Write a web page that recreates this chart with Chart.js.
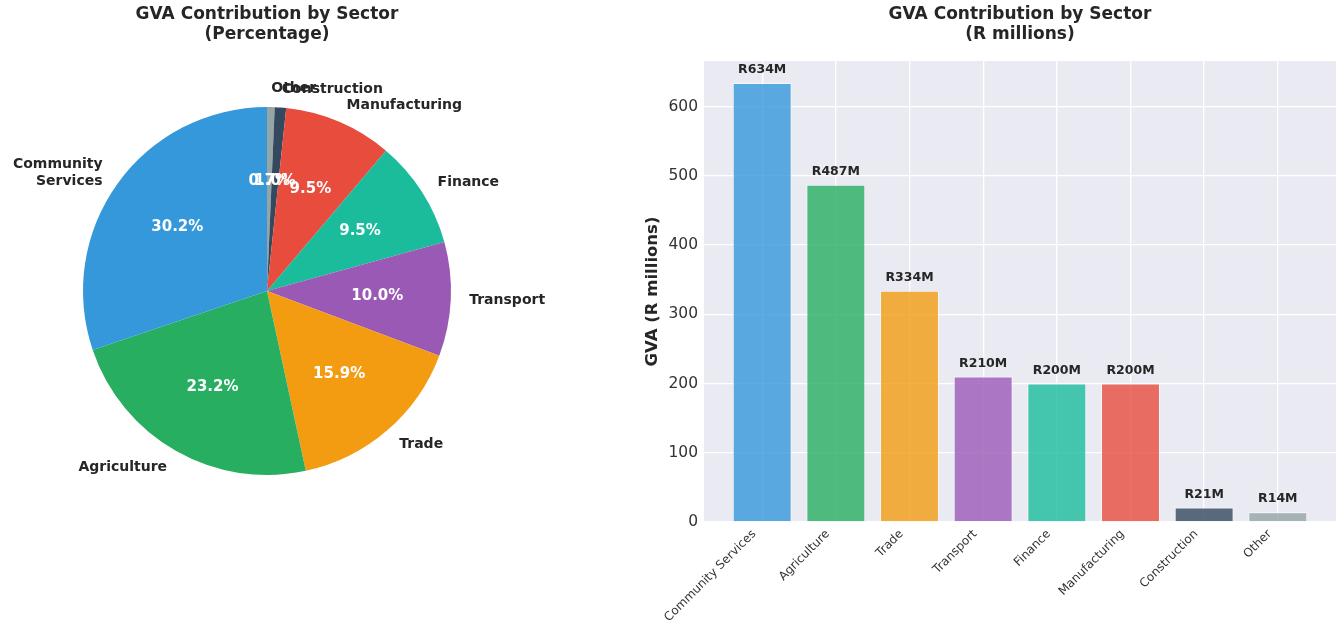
<!DOCTYPE html>
<html><head><meta charset="utf-8">
<script src="https://cdn.jsdelivr.net/npm/chart.js@4.4.1/dist/chart.umd.min.js"></script>
<style>
html,body{margin:0;padding:0;background:#fff;width:1343px;height:629px;overflow:hidden}
#pieWrap{position:absolute;left:0;top:0;width:600px;height:629px}
#barWrap{position:absolute;left:620px;top:0;width:723px;height:629px}
</style></head><body>
<div id="pieWrap"><canvas id="pie"></canvas></div>
<div id="barWrap"><canvas id="bar"></canvas></div>
<script>
const categories = ['Community Services','Agriculture','Trade','Transport','Finance','Manufacturing','Construction','Other'];
const gvaValues = [634,487,334,210,200,200,21,14];
const sectorColors = ['#3498db','#27ae60','#f39c12','#9b59b6','#1abc9c','#e74c3c','#34495e','#95a5a6'];
const yTicks = [0,100,200,300,400,500,600];
const pieTitle = ['GVA Contribution by Sector','(Percentage)'];
const barTitle = ['GVA Contribution by Sector','(R millions)'];
const yAxisTitle = 'GVA (R millions)';

const FONT = '"DejaVu Sans", sans-serif';
const TEXT = '#262626';

function withAlpha(hex, a){
  const n = parseInt(hex.slice(1),16);
  return `rgba(${(n>>16)&255},${(n>>8)&255},${n&255},${a})`;
}

const topTitle = {
  id:'topTitle',
  afterDraw(chart, args, opts){
    const ctx = chart.ctx, ca = chart.chartArea;
    ctx.save();
    ctx.font = `bold 17px ${FONT}`;
    ctx.fillStyle = TEXT;
    ctx.textAlign = 'center';
    ctx.textBaseline = 'middle';
    const cx = (ca.left + ca.right)/2;
    opts.lines.forEach((l,i)=>ctx.fillText(l, cx, opts.y + i*opts.lineHeight));
    ctx.restore();
  }
};

const pieLabels = {
  id:'pieLabels',
  afterDatasetsDraw(chart){
    const ctx = chart.ctx;
    const meta = chart.getDatasetMeta(0);
    const data = chart.data.datasets[0].data;
    const labels = chart.data.labels;
    const total = data.reduce((a,b)=>a+b,0);
    ctx.save();
    meta.data.forEach((arc,i)=>{
      const p = arc.getProps(['x','y','startAngle','endAngle','outerRadius'], true);
      const mid = (p.startAngle + p.endAngle)/2;
      const c = Math.cos(mid), s = Math.sin(mid);
      const lx = p.x + c*p.outerRadius*1.1, ly = p.y + s*p.outerRadius*1.1;
      ctx.font = `bold 14px ${FONT}`;
      ctx.fillStyle = TEXT;
      ctx.textAlign = c > 0 ? 'left' : 'right';
      ctx.textBaseline = 'middle';
      const lines = labels[i].split(' ');
      const lh = 17;
      lines.forEach((ln,k)=>ctx.fillText(ln, lx, ly + (k-(lines.length-1)/2)*lh));
    });
    meta.data.forEach((arc,i)=>{
      const p = arc.getProps(['x','y','startAngle','endAngle','outerRadius'], true);
      const mid = (p.startAngle + p.endAngle)/2;
      const px = p.x + Math.cos(mid)*p.outerRadius*0.6, py = p.y + Math.sin(mid)*p.outerRadius*0.6;
      ctx.font = `bold 15px ${FONT}`;
      ctx.fillStyle = '#ffffff';
      ctx.textAlign = 'center';
      ctx.textBaseline = 'middle';
      ctx.fillText((data[i]/total*100).toFixed(1)+'%', px, py);
    });
    ctx.restore();
  }
};

// pie: matplotlib draws counter-clockwise from the top; Chart.js clockwise, so reverse order
const pieOrder = categories.map((_,i)=>i).reverse();
new Chart(document.getElementById('pie'), {
  type:'pie',
  data:{
    labels: pieOrder.map(i=>categories[i]),
    datasets:[{
      data: pieOrder.map(i=>gvaValues[i]),
      backgroundColor: pieOrder.map(i=>sectorColors[i]),
      borderWidth:0
    }]
  },
  options:{
    responsive:true, maintainAspectRatio:false, animation:false,
    layout:{padding:{left:83,right:149,top:107,bottom:154}},
    plugins:{legend:{display:false}, tooltip:{enabled:false},
      topTitle:{lines:pieTitle, y:15, lineHeight:19.5}}
  },
  plugins:[pieLabels, topTitle]
});

const bgPlugin = {
  id:'bg',
  beforeDraw(chart){
    const ctx = chart.ctx, ca = chart.chartArea;
    ctx.save();
    ctx.fillStyle = '#EAEAF2';
    ctx.fillRect(ca.left, ca.top, ca.right-ca.left, ca.bottom-ca.top);
    ctx.restore();
  }
};

const valueLabels = {
  id:'valueLabels',
  afterDatasetsDraw(chart){
    const ctx = chart.ctx;
    const ys = chart.scales.y;
    const meta = chart.getDatasetMeta(0);
    ctx.save();
    ctx.font = `bold 12.5px ${FONT}`;
    ctx.fillStyle = TEXT;
    ctx.textAlign = 'center';
    ctx.textBaseline = 'bottom';
    meta.data.forEach((bar,i)=>{
      const v = gvaValues[i];
      ctx.fillText('R'+v+'M', bar.x, ys.getPixelForValue(v + 10));
    });
    ctx.restore();
  }
};

const n = categories.length;
const xPad = 0.4 + 0.05*(n - 1 + 0.8);
new Chart(document.getElementById('bar'), {
  type:'bar',
  data:{
    datasets:[{
      data: gvaValues.map((v,i)=>({x:i, y:v})),
      backgroundColor: sectorColors.map(c=>withAlpha(c,0.8)),
      borderColor:'rgba(255,255,255,0.6)',
      borderWidth:1,
      barPercentage:1,
      categoryPercentage:0.8
    }]
  },
  options:{
    responsive:true, maintainAspectRatio:false, animation:false,
    layout:{padding:{left:0,right:7,top:61,bottom:0}},
    plugins:{legend:{display:false}, tooltip:{enabled:false},
      topTitle:{lines:barTitle, y:15, lineHeight:19.5}},
    scales:{
      x:{
        type:'linear', offset:false, min:-xPad, max:(n-1)+xPad,
        afterBuildTicks(s){ s.ticks = categories.map((_,i)=>({value:i})); },
        afterFit(s){ s.height = 107; },
        ticks:{autoSkip:false, maxRotation:45, minRotation:45, padding:5, labelOffset:-8,
          font:{family:FONT, size:12}, color:'#333',
          callback:(v)=>categories[v]},
        grid:{offset:false, color:'#ffffff', lineWidth:1.3, drawTicks:false},
        border:{display:false}
      },
      y:{
        min:0, max:Math.max(...gvaValues)*1.05,
        afterBuildTicks(s){ s.ticks = yTicks.map(v=>({value:v})); },
        afterFit(s){ s.width = 84; },
        ticks:{padding:6, font:{family:FONT, size:15.5}, color:'#333'},
        grid:{color:'#ffffff', lineWidth:1.3, drawTicks:false},
        border:{display:false},
        title:{display:true, text:yAxisTitle, color:TEXT, padding:{top:23},
          font:{family:FONT, size:16.5, weight:'bold'}}
      }
    }
  },
  plugins:[bgPlugin, valueLabels, topTitle]
});
</script>
</body></html>
